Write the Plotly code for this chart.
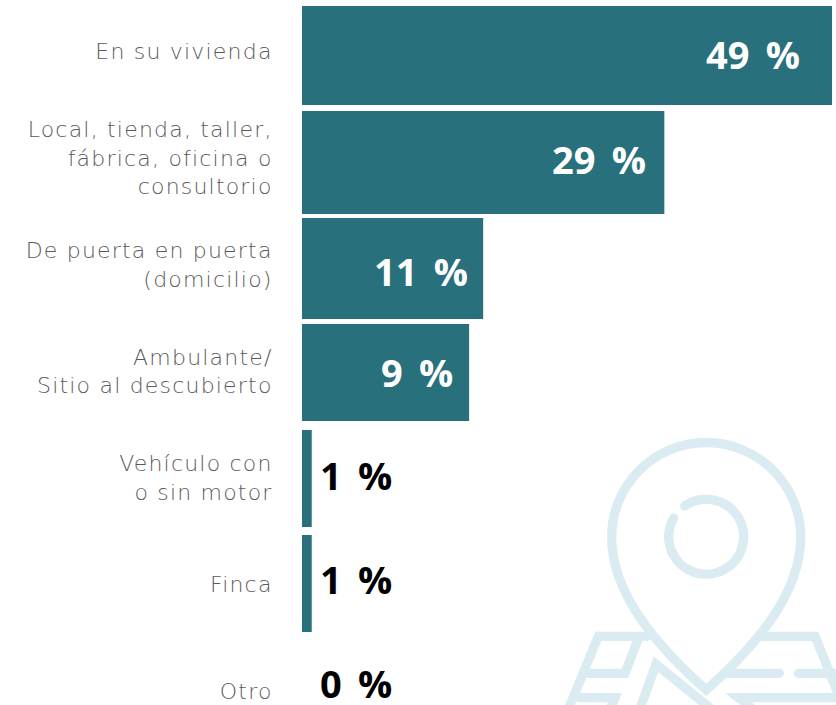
import numpy as np
import plotly.graph_objects as go

categories = ["En su vivienda", "Local, tienda, taller,<br>fábrica, oficina o<br>consultorio",
              "De puerta en puerta<br>(domicilio)", "Ambulante/<br>Sitio al descubierto",
              "Vehículo con<br>o sin motor", "Finca", "Otro"]
# drawn bar lengths (they are not proportional to the printed labels)
bar_lengths = [49.0, 33.5, 16.75, 15.45, 0.9, 0.9, 0.0]
value_labels = ["49 %", "29 %", "11 %", "9 %", "1 %", "1 %", "0 %"]

# --- layout / style ---
W, H = 836, 705
LEFT = 302
UNIT = 530 / 49.0
STEP, C0 = 106.6, 51.5
tops = [6, 111, 218, 324, 430, 535, 640]
bottoms = [105, 214, 319, 421, 527, 632, 737]
TEAL = "#28707c"
PIN = "#daecf2"
label_ends = [-30, -16, -13, -14, None, None, None]  # px from bar end for inside labels
label_y = [53.5, 158.5, 270.5, 371.5, 474.5, 578.5, 683]
LABEL_FONT = "DejaVu Sans ExtraLight, DejaVu Sans"
VALUE_FONT = "Open Sans"

offsets = [(t - (C0 + STEP * i)) / STEP for i, t in enumerate(tops)]
widths = [(b - t) / STEP for t, b in zip(tops, bottoms)]

fig = go.Figure(go.Bar(
    y=list(range(len(categories))), x=bar_lengths, orientation="h",
    marker=dict(color=TEAL, line=dict(width=0)),
    width=widths, offset=offsets, hoverinfo="skip",
))

annotations = []
for i, (v, t) in enumerate(zip(bar_lengths, value_labels)):
    inside = label_ends[i] is not None
    annotations.append(dict(
        x=v if inside else 0, y=(label_y[i] - C0) / STEP, xref="x", yref="y",
        text=t.replace(" ", "\u00a0\u2009"), showarrow=False,
        xanchor="right" if inside else "left", yanchor="middle",
        xshift=label_ends[i] if inside else 16,
        font=dict(family=VALUE_FONT, size=38, weight=700, color="#ffffff" if inside else "#000000"),
    ))

# --- decorative pin / map icon (reference pixels -> paper fractions of the plot area) ---
def px(x, y):
    return (x - LEFT) / (W - LEFT), 1 - y / H

def zoomed(x, y):
    return 560 + x / 3, 420 + y / 3

shapes = []
SW = 9.3

def fmt(pts):
    out = []
    for x, y in pts:
        a, b = px(x, y)
        out.append(f"{a:.5f},{b:.5f}")
    return out

def dot(x, y):
    a0, b0 = px(x - SW / 2, y - SW / 2)
    a1, b1 = px(x + SW / 2, y + SW / 2)
    return dict(type="circle", xref="paper", yref="paper", layer="below",
                x0=a0, x1=a1, y0=b0, y1=b1, fillcolor=PIN, line=dict(width=0))

def polyline(pts):
    shapes.append(dict(type="path", xref="paper", yref="paper", layer="below",
                       path="M" + " L".join(fmt(pts)), line=dict(color=PIN, width=SW)))
    for x, y in pts:
        shapes.append(dot(x, y))

def zpoly(*pts):
    polyline([zoomed(*p) for p in pts])

# map folds first, so the pin sits on top of them
zpoly((262, 649), (115, 649), (20, 880))
zpoly((235, 655), (195, 760), (85, 760))
zpoly((60, 833), (165, 833), (145, 880))
zpoly((235, 880), (288, 733), (470, 880))
zpoly((600, 649), (765, 649), (850, 860))
zpoly((505, 760), (658, 760))
zpoly((715, 760), (830, 760))
zpoly((850, 833), (535, 833), (600, 885))

# pin outline
cx, cy, r = 706.2, 537, 94.5
k = 0.5523 * r
tipy = 690
segs = [((cx - r, cy), (cx - r, cy - k), (cx - k, cy - r), (cx, cy - r)),
        (None, (cx + k, cy - r), (cx + r, cy - k), (cx + r, cy)),
        (None, (cx + r, cy + 53), (cx + 56, cy + 103), (cx, tipy)),
        (None, (cx - 56, cy + 103), (cx - r, cy + 53), (cx - r, cy))]
p = "M" + fmt([segs[0][0]])[0]
for s in segs:
    p += " C" + " ".join(fmt(s[1:]))
shapes.append(dict(type="path", xref="paper", yref="paper", layer="below", path=p + " Z",
                   line=dict(color=PIN, width=SW)))

# ring with its small gap
a0 = np.arctan2(505.3 - 536.7, 684.3 - 706.2)
a1 = np.arctan2(517.7 - 536.7, 672.7 - 706.2) + 2 * np.pi
ring = [(706.2 + 37.5 * np.cos(a), 536.7 + 37.5 * np.sin(a)) for a in np.linspace(a0, a1, 60)]
shapes.append(dict(type="path", xref="paper", yref="paper", layer="below",
                   path="M" + " L".join(fmt(ring)), line=dict(color=PIN, width=SW)))
shapes.append(dot(*ring[0]))
shapes.append(dot(*ring[-1]))

fig.update_layout(
    width=W, height=H, margin=dict(l=LEFT, r=0, t=0, b=0),
    paper_bgcolor="#ffffff", plot_bgcolor="rgba(0,0,0,0)",
    showlegend=False, shapes=shapes, annotations=annotations,
    xaxis=dict(range=[0, (W - LEFT) / UNIT], visible=False, fixedrange=True),
    yaxis=dict(range=[(H - C0) / STEP, -C0 / STEP], tickmode="array",
               tickvals=list(range(len(categories))), ticktext=categories,
               showgrid=False, zeroline=False, showline=False,
               ticks="outside", ticklen=24, tickcolor="rgba(0,0,0,0)",
               tickfont=dict(family=LABEL_FONT, size=22, weight=200, color="#5a5a5a"),
               fixedrange=True),
)
fig.write_html("out.html", config={"displayModeBar": False},
               post_script="document.body.style.margin='0';document.body.style.overflow='hidden';"
                           "document.querySelectorAll('.ytick text').forEach(function(t){t.style.letterSpacing='1.2px';});")
